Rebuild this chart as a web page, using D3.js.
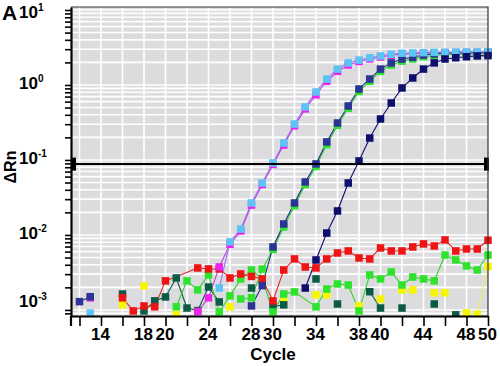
<!DOCTYPE html>
<html>
<head>
<meta charset="utf-8">
<script src="https://cdn.jsdelivr.net/npm/d3@7"></script>
<style>
  html, body { margin: 0; padding: 0; background: #ffffff; }
  svg { display: block; font-family: "Liberation Sans", Arial, sans-serif; }
</style>
</head>
<body>
<svg id="chart" width="500" height="366"></svg>
<script>
// ---------------- DATA ----------------
const cycles = [12,13,14,15,16,17,18,19,20,21,22,23,24,25,26,27,28,29,30,31,32,33,34,35,36,37,38,39,40,41,42,43,44,45,46,47,48,49,50];
const xTickValues = [12,14,16,18,20,22,24,26,28,30,32,34,36,38,40,42,44,46,48,50];
const xTickLabels = [14,18,20,24,28,30,34,38,40,44,48,50];
const yDecadeExponents = [-3,-2,-1,0,1];
const thresholdValue = 0.088;

// light blue (earliest curve)
const lightBlue = [null,0.00091,null,null,null,null,null,null,null,null,null,null,null,
  0.00196,0.0081,0.012,0.0267,0.0493,0.0912,0.168,0.302,0.509,0.807,1.20,1.63,1.97,2.15,2.31,2.44,2.57,2.65,2.67,2.70,2.72,2.73,2.74,2.75,2.75,2.76];
// magenta (paired with light blue)
const magenta = [null,0.00145,null,null,null,null,null,null,null,null,null,
  0.00095,0.00145,0.00374,0.0075,0.0113,0.025,0.047,0.087,0.158,0.285,0.48,0.74,1.12,1.52,1.85,2.06,2.22,2.36,2.49,2.58,2.62,2.65,2.68,2.7,2.71,2.72,2.72,2.73];
// medium blue (middle curve)
const midBlue = [0.00129,0.0015,null,null,null,null,null,null,null,null,null,null,null,null,null,null,
  0.00113,0.00211,0.00692,0.014,0.0267,0.0509,0.0885,0.174,0.311,0.525,0.885,1.20,1.63,1.97,2.22,2.34,2.51,2.59,2.65,2.67,2.68,2.69,2.70];
// green paired with medium blue
const greenPair = [null,null,null,null,null,null,null,null,null,null,null,null,null,null,null,
  0.0014,0.00145,0.0035,0.0064,0.0128,0.0245,0.047,0.082,0.16,0.29,0.49,0.82,1.12,1.52,1.85,2.08,2.22,2.38,2.47,2.53,2.56,2.58,2.6,2.62];
// navy (latest curve)
const navy = [null,null,null,null,null,null,null,null,null,null,null,null,null,null,null,null,null,null,null,null,null,
  0.00196,0.00464,0.0106,0.0209,0.0493,0.097,0.196,0.352,0.575,0.912,1.24,1.63,1.97,2.22,2.31,2.38,2.44,2.46];
// noise: red
const red = [null,null,null,null,
  0.00145,0.00097,0.00113,0.0011,0.00244,null,null,0.00363,0.00352,0.00352,0.00267,0.00302,0.0028,0.00259,0.00132,0.00341,
  0.00479,0.00374,0.00363,0.00479,0.00575,0.00612,0.00493,0.00479,0.00671,0.00612,0.00612,0.00692,0.00759,0.00713,0.00858,0.00612,0.0065,0.0065,0.0085];
// noise: bright green
const greenNoise = [null,null,null,null,null,null,null,null,null,
  0.0011,0.00244,0.00185,0.00293,0.00094,0.00154,0.00259,0.00341,0.00259,0.00094,0.00163,0.00174,null,0.0011,0.0019,0.00222,
  0.00215,0.00097,0.00293,0.00259,0.00321,0.00215,0.00275,0.00259,0.00244,0.0054,0.00464,0.00386,0.00341,0.0054];
// noise: dark teal
const darkTeal = [null,null,null,null,
  0.00163,null,0.00097,0.00132,0.00149,0.00267,0.00106,0.00098,0.00202,0.00128,null,null,0.00196,null,0.0011,0.00117,
  null,null,0.00259,null,0.0012,null,null,0.00175,0.00106,null,0.00106,null,null,0.0012,null,0.00086,null,null,null];
// noise: yellow
const yellow = [null,null,null,null,
  0.00117,null,0.00209,null,null,0.00086,null,null,null,null,0.0011,null,null,null,null,0.0013,
  null,null,0.00159,0.00159,null,null,0.00113,null,0.0014,null,0.00185,0.00185,null,0.00169,0.00169,null,0.00091,0.00088,0.0038];

// ---------------- STYLE ----------------
const seriesList = [
  {values: yellow,     color: "#f6f600", line: "#eeee66", connect: false},
  {values: darkTeal,   color: "#0b5a46", line: "#0b5a46", connect: false},
  {values: greenNoise, color: "#2ee22e", line: "#2ed02e", connect: true},
  {values: red,        color: "#ee1414", line: "#dd2a2a", connect: true},
  {values: magenta,    color: "#ee22ee", line: "#c040e0", connect: false},
  {values: greenPair,  color: "#2ee22e", line: "#2ed02e", connect: false},
  {values: midBlue,    color: "#2c3596", line: "#1f2a80", connect: false},
  {values: lightBlue,  color: "#5cc4f4", line: "#9a70f0", connect: false},
  {values: navy,       color: "#0e0e6c", line: "#0e0e6c", connect: false}
];

const plot = {left: 71, right: 488, top: 7, bottom: 316};
const xMin = 11.21;

const svg = d3.select("#chart");

const x = d3.scaleLinear().domain([xMin, 50]).range([plot.left, plot.right]);
const y = d3.scaleLog().domain([0.00083, 10.96]).range([plot.bottom, plot.top]);

// background
svg.append("rect").attr("x", plot.left).attr("y", plot.top)
  .attr("width", plot.right - plot.left).attr("height", plot.bottom - plot.top)
  .attr("fill", "#dcdcdf");

// minor log ticks
const minorTicks = [];
for (const e of [-4,-3,-2,-1,0,1]) {
  for (let m = 1; m <= 9; m++) {
    const v = m * Math.pow(10, e);
    if (v >= y.domain()[0] && v <= y.domain()[1]) minorTicks.push(v);
  }
}

// gridlines
const grid = svg.append("g");
grid.selectAll("line.h").data(minorTicks).join("line")
  .attr("x1", plot.left).attr("x2", plot.right)
  .attr("y1", d => y(d)).attr("y2", d => y(d))
  .attr("stroke", "#ffffff").attr("stroke-width", 1.6);
grid.selectAll("line.v").data(xTickValues.filter(d => d < 50)).join("line")
  .attr("x1", d => x(d)).attr("x2", d => x(d))
  .attr("y1", plot.top).attr("y2", plot.bottom)
  .attr("stroke", "#ffffff").attr("stroke-width", 1.6);

// clip
svg.append("clipPath").attr("id", "clip").append("rect")
  .attr("x", plot.left).attr("y", plot.top)
  .attr("width", plot.right - plot.left + 4).attr("height", plot.bottom - plot.top);

const dataG = svg.append("g").attr("clip-path", "url(#clip)");

const lineGen = d3.line().x(d => x(d.c)).y(d => y(d.v)).defined(d => d.v != null);

seriesList.forEach(s => {
  let pts = cycles.map((c, i) => ({c, v: s.values[i]}));
  if (s.connect) pts = pts.filter(d => d.v != null);
  dataG.append("path").datum(pts)
    .attr("d", lineGen).attr("fill", "none")
    .attr("stroke", s.line).attr("stroke-width", 1.1);
});

const sq = 7.5;
seriesList.forEach(s => {
  const pts = cycles.map((c, i) => ({c, v: s.values[i]})).filter(d => d.v != null);
  dataG.append("g").selectAll("rect").data(pts).join("rect")
    .attr("x", d => x(d.c) - sq / 2).attr("y", d => y(d.v) - sq / 2)
    .attr("width", sq).attr("height", sq)
    .attr("fill", s.color);
});

// threshold line
svg.append("line")
  .attr("x1", plot.left).attr("x2", plot.right)
  .attr("y1", y(thresholdValue)).attr("y2", y(thresholdValue))
  .attr("stroke", "#000").attr("stroke-width", 2);
[plot.left + 2.5, plot.right - 1.5].forEach(cx => {
  svg.append("rect").attr("x", cx - 2.5).attr("y", y(thresholdValue) - 6.5)
    .attr("width", 5).attr("height", 13).attr("fill", "#000");
});

// frame (top/right)
svg.append("path")
  .attr("d", `M${plot.left},${plot.top}H${plot.right}V${plot.bottom}`)
  .attr("fill", "none").attr("stroke", "#333").attr("stroke-width", 1.2);

// left axis
const yAxis = d3.axisLeft(y).tickValues(minorTicks).tickSize(6).tickFormat("").tickSizeOuter(0);
const gy = svg.append("g").attr("transform", `translate(${plot.left},0)`).call(yAxis);
gy.select(".domain").attr("stroke", "#000").attr("stroke-width", 2.2);
gy.selectAll(".tick line").attr("stroke", "#000").attr("stroke-width", 1.6);

// bottom axis
const xAxis = d3.axisBottom(x).tickValues(xTickValues).tickSize(10).tickSizeOuter(0)
  .tickFormat(d => xTickLabels.includes(d) ? String(d) : "");
const gx = svg.append("g").attr("transform", `translate(0,${plot.bottom})`).call(xAxis);
gx.select(".domain").attr("stroke", "#000").attr("stroke-width", 2.2);
gx.selectAll(".tick line").attr("stroke", "#000").attr("stroke-width", 1.6);
gx.selectAll(".tick text")
  .attr("y", 24).attr("dy", null).attr("dx", -1)
  .attr("font-size", 17).attr("font-weight", "bold").attr("fill", "#000")
  .attr("font-family", "'Liberation Sans', Arial, sans-serif");
// left edge tick
svg.append("line").attr("x1", plot.left).attr("x2", plot.left)
  .attr("y1", plot.bottom).attr("y2", plot.bottom + 10)
  .attr("stroke", "#000").attr("stroke-width", 2.2);

// y labels (powers of ten)
const yl = svg.append("g").attr("font-weight", "bold").attr("fill", "#000");
yDecadeExponents.forEach(e => {
  const base = Math.max(18, Math.min(y(Math.pow(10, e)) + 4, 307));
  const t = yl.append("text").attr("x", 19).attr("y", base).attr("font-size", 17);
  t.append("tspan").text("10");
  t.append("tspan").attr("font-size", 10).attr("dy", -7).text(String(e));
});

// panel letter
svg.append("text").attr("x", 2).attr("y", 20).attr("font-size", 21)
  .attr("font-weight", "bold").text("A");

// axis titles
svg.append("text").attr("transform", "translate(16,167) rotate(-90)")
  .attr("text-anchor", "middle").attr("font-size", 16).attr("font-weight", "bold")
  .text("ΔRn");
svg.append("text").attr("x", 273).attr("y", 360)
  .attr("text-anchor", "middle").attr("font-size", 17).attr("font-weight", "bold")
  .text("Cycle");
</script>
</body>
</html>
